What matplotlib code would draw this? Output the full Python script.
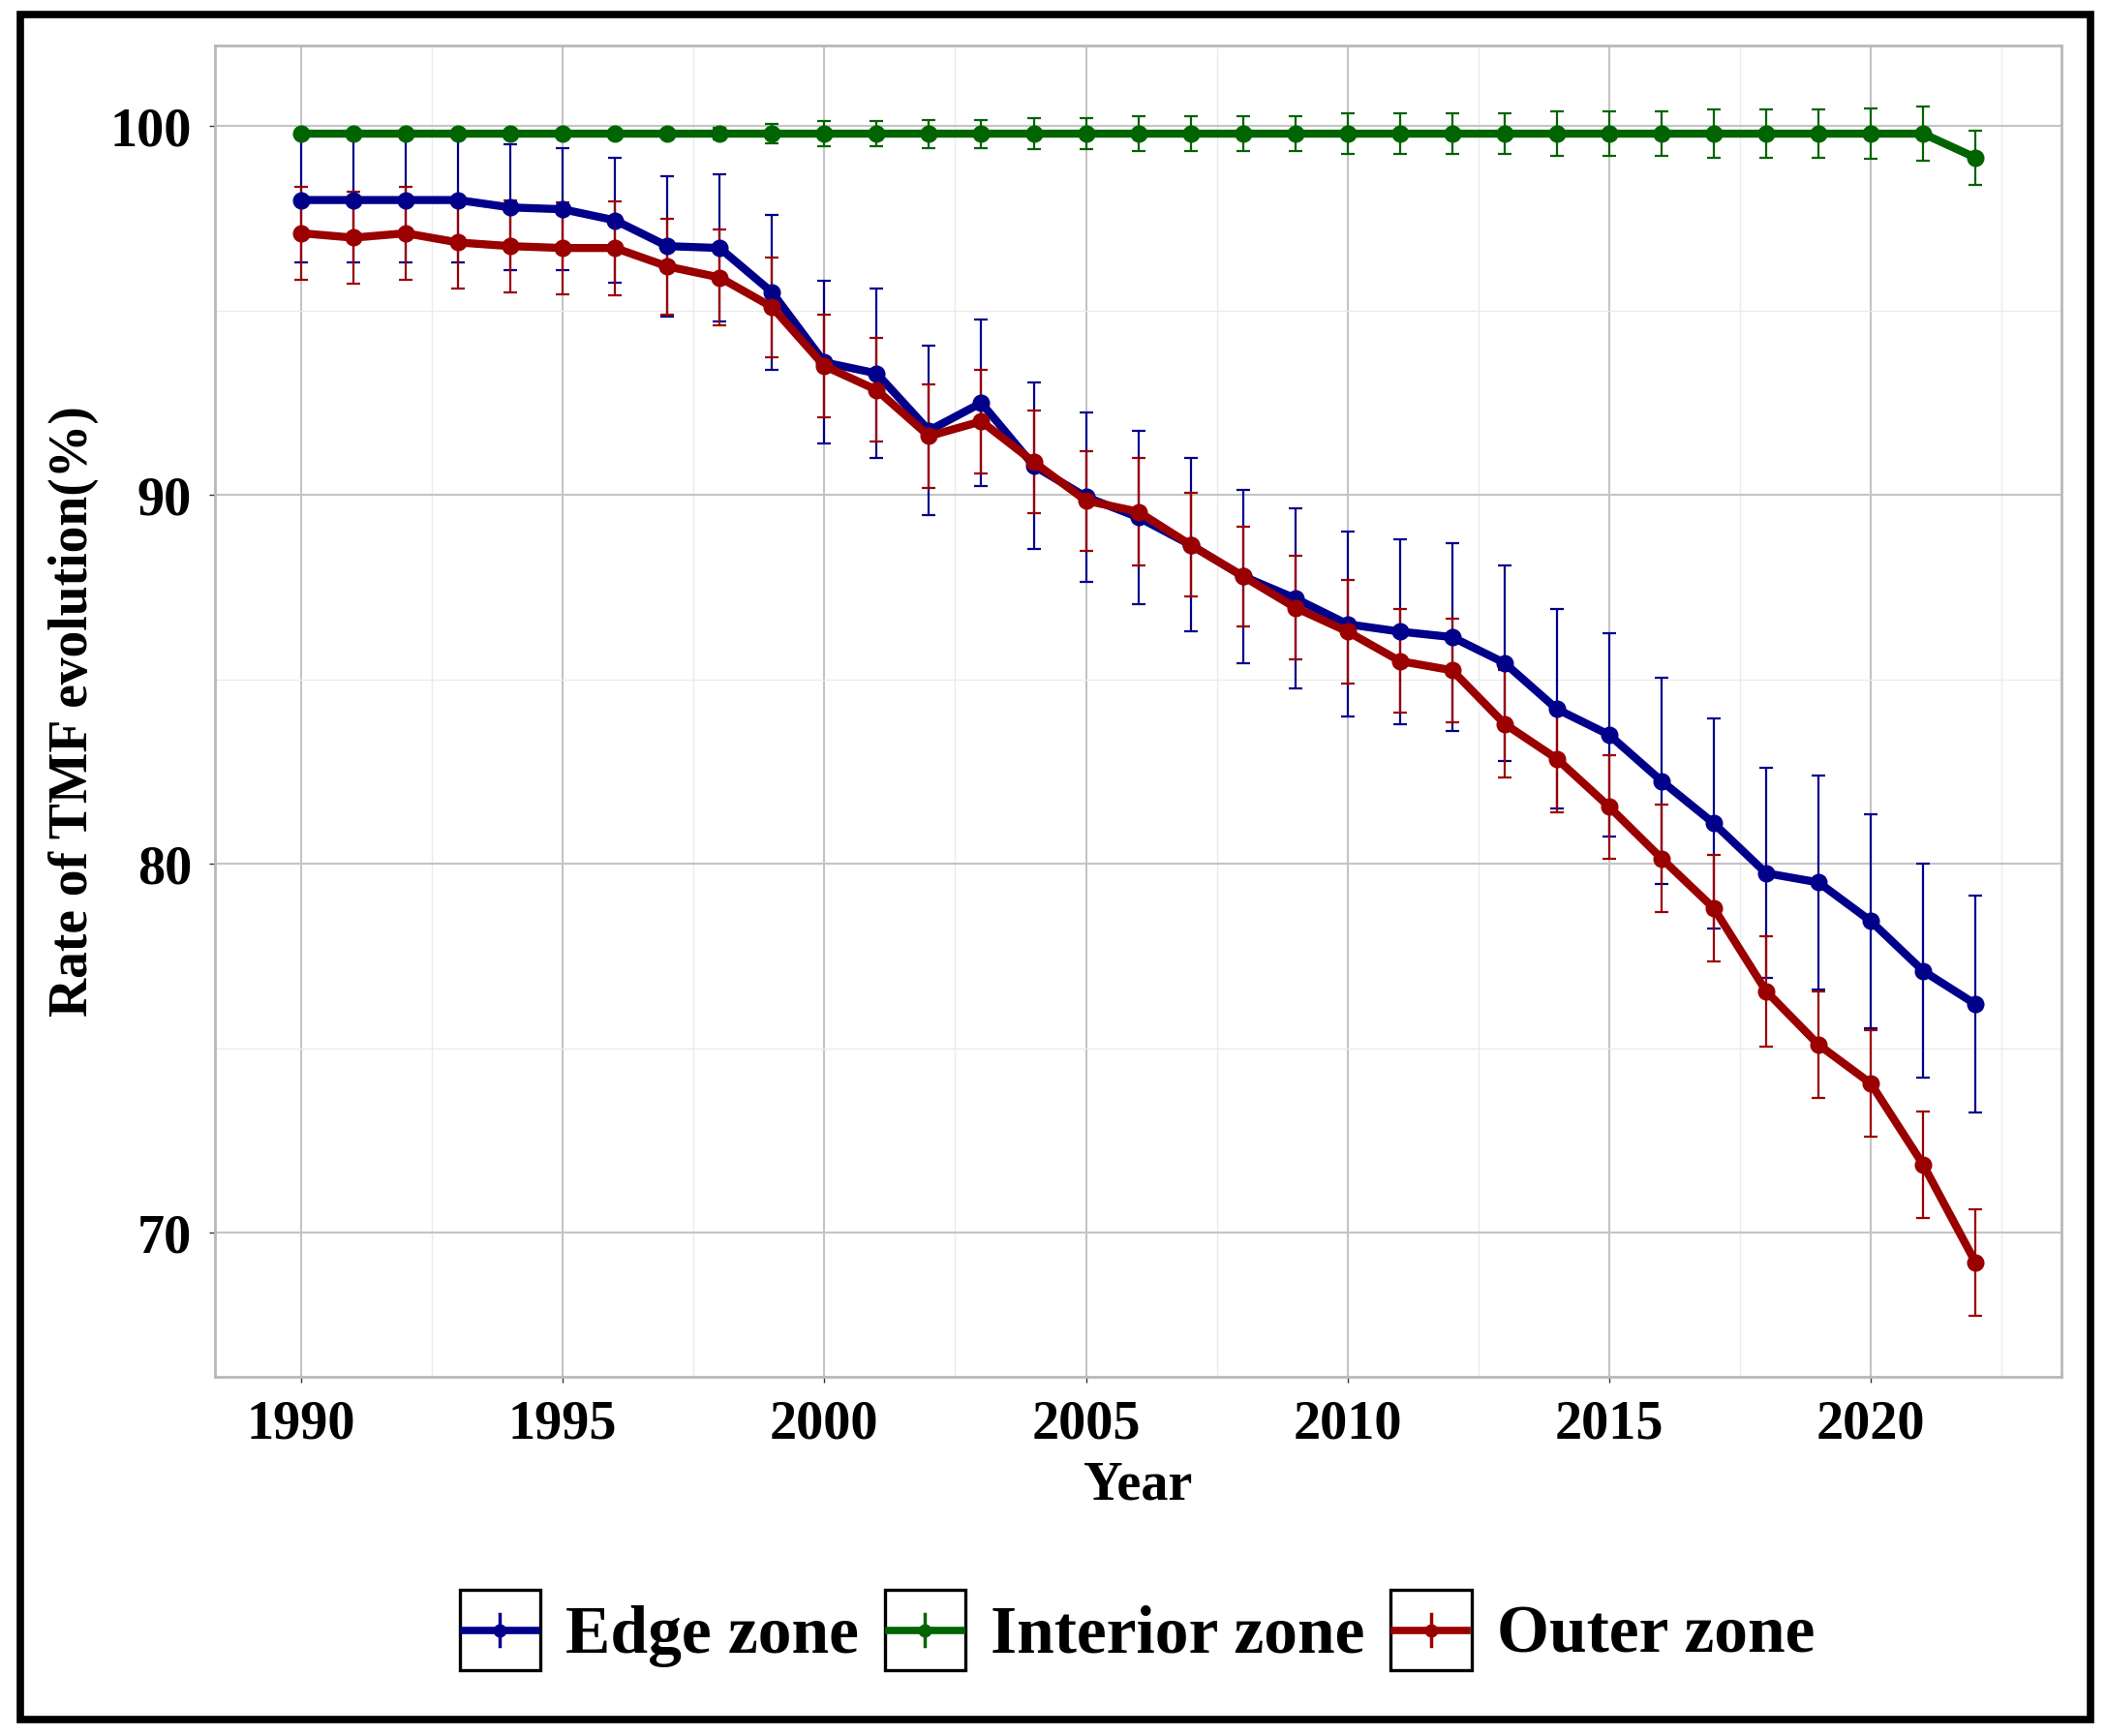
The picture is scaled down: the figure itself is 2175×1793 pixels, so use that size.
import numpy as np
import matplotlib
matplotlib.use("Agg")
import matplotlib.pyplot as plt
from matplotlib.patches import Rectangle
from matplotlib.lines import Line2D
from matplotlib.legend_handler import HandlerBase
from matplotlib.ticker import MultipleLocator

# data
years = list(range(1990, 2023))

edge_mean = [98.0, 98.0, 98.0, 98.0, 97.8, 97.75, 97.45, 96.75, 96.7, 95.5,
             93.6, 93.3, 91.75, 92.5, 90.8, 89.95, 89.4, 88.65, 87.8, 87.2,
             86.5, 86.3, 86.15, 85.45, 84.2, 83.5, 82.25, 81.1, 79.75, 79.5,
             78.45, 77.1, 76.2]
edge_err = [1.7, 1.7, 1.7, 1.7, 1.7, 1.65, 1.7, 1.9, 2.0, 2.1,
            2.2, 2.3, 2.3, 2.25, 2.25, 2.3, 2.35, 2.35, 2.35, 2.45,
            2.5, 2.5, 2.55, 2.65, 2.7, 2.75, 2.8, 2.85, 2.85, 2.9,
            2.9, 2.9, 2.95]

interior_mean = [99.8] * 32 + [99.15]
interior_err = [0.05, 0.05, 0.05, 0.05, 0.05, 0.05, 0.05, 0.1, 0.15, 0.27,
                0.34, 0.35, 0.38, 0.38, 0.41, 0.41, 0.48, 0.47, 0.48, 0.48,
                0.54, 0.54, 0.54, 0.54, 0.61, 0.61, 0.61, 0.66, 0.66, 0.66,
                0.69, 0.73, 0.73]

outer_mean = [97.1, 96.98, 97.1, 96.85, 96.75, 96.7, 96.7, 96.2, 95.9, 95.1,
              93.5, 92.85, 91.6, 92.0, 90.9, 89.85, 89.55, 88.65, 87.8, 86.95,
              86.3, 85.5, 85.25, 83.8, 82.85, 81.55, 80.15, 78.8, 76.55, 75.1,
              74.05, 71.85, 69.2]
outer_err = [1.25, 1.25, 1.27, 1.25, 1.25, 1.25, 1.27, 1.3, 1.3, 1.35,
             1.38, 1.4, 1.4, 1.4, 1.4, 1.35, 1.45, 1.4, 1.35, 1.4,
             1.4, 1.4, 1.4, 1.45, 1.45, 1.4, 1.45, 1.45, 1.5, 1.45,
             1.45, 1.45, 1.45]

zones = ["Edge zone", "Interior zone", "Outer zone"]
colors = ["#00008B", "#006400", "#9B0000"]
means = [edge_mean, interior_mean, outer_mean]
errs = [edge_err, interior_err, outer_err]


class BoxedKey(HandlerBase):
    # ggplot style legend key: line + point + errorbar inside a black box
    def create_artists(self, legend, orig_handle, xdescent, ydescent,
                       width, height, fontsize, trans):
        col = orig_handle[0].get_color()
        x0, y0 = -xdescent, -ydescent
        cx, cy = x0 + width / 2, y0 + height / 2
        box = Rectangle((x0, y0), width, height, fill=False, ec="black",
                        lw=2.4, transform=trans)
        hline = Line2D([x0 + 3, x0 + width - 3], [cy, cy], color=col, lw=5.5,
                       transform=trans)
        vline = Line2D([cx, cx], [y0 + height * 0.3, y0 + height * 0.7],
                       color=col, lw=2.5, transform=trans)
        dot = Line2D([cx], [cy], marker="o", ms=9, color=col, lw=0,
                     transform=trans)
        return [box, hline, vline, dot]


plt.rcParams["font.family"] = ["Liberation Serif", "DejaVu Serif"]
plt.rcParams["font.weight"] = "bold"

fig = plt.figure(figsize=(21.75, 17.93), dpi=100)
ax = fig.add_axes([0.102, 0.207, 0.877, 0.767])

handles = []
for name, col, m, e in zip(zones, colors, means, errs):
    h = ax.errorbar(years, m, yerr=e, color=col, lw=6, marker="o",
                    markersize=12, elinewidth=1.6, capsize=5, capthick=1.6,
                    label=name, zorder=3)
    handles.append(h)

ax.set_xlim(1988.35, 2023.65)
ax.set_ylim(66.1, 102.2)
ax.xaxis.set_major_locator(MultipleLocator(5))
ax.xaxis.set_minor_locator(MultipleLocator(2.5))
ax.yaxis.set_major_locator(MultipleLocator(10))
ax.yaxis.set_minor_locator(MultipleLocator(5))
ax.grid(which="major", color="#C4C4C4", lw=1.5, zorder=0)
ax.grid(which="minor", color="#EBEBEB", lw=1.0, zorder=0)
ax.set_axisbelow(True)
for sp in ax.spines.values():
    sp.set_color("#B8B8B8")
    sp.set_linewidth(2)

ax.tick_params(axis="both", which="major", length=4, width=1, color="#333333",
               labelsize=40.5, pad=13)
ax.tick_params(axis="both", which="minor", length=0)
for lab in ax.get_xticklabels() + ax.get_yticklabels():
    lab.set_fontweight("bold")

ax.set_xlabel("Year", fontsize=40.5, fontweight="bold", va="center")
ax.set_ylabel("Rate of TMF evolution(%)", fontsize=40, fontweight="bold",
              va="center")
ax.xaxis.set_label_coords(0.5, -0.082)
ax.yaxis.set_label_coords(-0.0766, 0.5)

ax.legend(handles=handles, labels=zones, ncol=3, loc="center",
          bbox_to_anchor=(0.540, 0.061), bbox_transform=fig.transFigure,
          frameon=False, prop={"size": 50, "weight": "bold"},
          handlelength=1.2, handleheight=1.45, handletextpad=0.38,
          columnspacing=0.38, borderaxespad=0,
          handler_map={type(handles[0]): BoxedKey()})

# thick black frame around the whole figure
fig.patches.append(Rectangle((0.0095, 0.0095), 0.983, 0.982, fill=False,
                             ec="black", lw=5.5, transform=fig.transFigure,
                             figure=fig))

fig.savefig("out.png", dpi=100)
